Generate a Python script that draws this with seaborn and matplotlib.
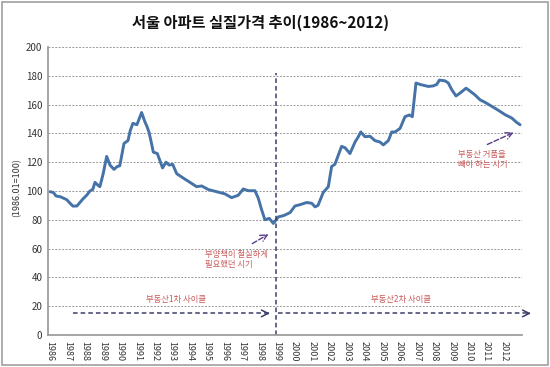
import matplotlib
matplotlib.use("Agg")
import matplotlib.pyplot as plt
import seaborn as sns
import pandas as pd
from matplotlib.patches import Rectangle

# ---- data ----
time = [1986.00, 1986.20, 1986.35, 1986.60, 1986.96, 1987.15, 1987.32, 1987.55, 1987.75, 1987.89,
        1988.10, 1988.29, 1988.45, 1988.58, 1988.75, 1988.86, 1989.05, 1989.25, 1989.44, 1989.67,
        1989.85, 1990.00, 1990.24, 1990.47, 1990.60, 1990.75, 1990.98, 1991.25, 1991.44, 1991.55,
        1991.67, 1991.80, 1991.92, 1992.15, 1992.30, 1992.45, 1992.64, 1992.83, 1993.03, 1993.26,
        1993.45, 1993.63, 1994.02, 1994.40, 1994.69, 1995.07, 1995.55, 1996.02, 1996.40, 1996.78,
        1997.07, 1997.36, 1997.74, 1997.93, 1998.12, 1998.31, 1998.56, 1998.79, 1999.08, 1999.40,
        1999.75, 2000.03, 2000.32, 2000.70, 2000.99, 2001.18, 2001.35, 2001.65, 2001.94, 2002.13,
        2002.32, 2002.70, 2002.90, 2003.18, 2003.47, 2003.66, 2003.80, 2004.04, 2004.33, 2004.61,
        2004.90, 2005.09, 2005.38, 2005.57, 2005.76, 2006.05, 2006.33, 2006.58, 2006.75, 2006.96,
        2007.19, 2007.67, 2007.95, 2008.15, 2008.30, 2008.62, 2008.81, 2009.00, 2009.25, 2009.48,
        2009.83, 2010.01, 2010.34, 2010.63, 2010.91, 2011.30, 2011.68, 2012.06, 2012.44, 2012.73,
        2012.92]
price = [99.5, 99, 96.5, 96, 94, 91.5, 89.5, 89.6, 92.5, 94.5,
         97, 100, 101, 106, 104, 103, 112, 124, 118, 115,
         117, 117.5, 133, 135, 142, 147, 146, 154.5, 148, 145,
         141, 134, 127, 126, 121, 116, 120, 118, 118.5, 112,
         110.5, 109, 106, 103, 103.5, 101, 99.5, 98, 95.4, 97,
         101.4, 100.2, 100.2, 95, 87, 80, 81, 77.5, 82, 83,
         85, 89.6, 90.5, 92, 91.5, 89, 90, 99, 103, 117,
         118.6, 131, 130, 126, 134, 137.7, 141, 137.7, 138, 135,
         134, 132, 135, 141, 141, 143.5, 151.6, 152.8, 151.6, 175,
         174, 172.6, 173, 174, 177, 176.5, 175, 170.5, 166, 168,
         171.4, 169.8, 166.7, 163.3, 161.6, 158.8, 156, 153, 150.7, 147.6,
         146]
years = list(range(1986, 2013))
yticks = list(range(0, 201, 20))

title = "서울 아파트 실질가격 추이(1986~2012)"
ylabel = "(1986.01=100)"
cycle1 = "부동산1차 사이클"
cycle2 = "부동산2차 사이클"
note1 = "부양책이 절실하게\n필요했던 시기"
note2 = "부동산 거품을\n빼야 하는 시기"

# ---- style ----
sns.set_theme(style="white")
plt.rcParams['font.family'] = ['Noto Sans CJK KR', 'DejaVu Sans']

fig = plt.figure(figsize=(5.5, 3.67), dpi=100)
ax = fig.add_axes([48/550, 1-335/367, (522-48)/550, (335-47)/367])

df = pd.DataFrame({"time": time, "price": price})
sns.lineplot(data=df, x="time", y="price", ax=ax, color="#4572a7", lw=2.1)

ax.set_xlim(1985.89, 2013.03)
ax.set_ylim(0, 200)
ax.set_yticks(yticks)
ax.set_yticklabels([str(v) for v in yticks], fontsize=7, color="#333333")
ax.set_xticks(years)
ax.set_xticklabels([str(y) for y in years], rotation=-90, fontsize=6.5, color="#333333")
ax.tick_params(axis='both', length=0, pad=4)
ax.set_xlabel("")
ax.set_ylabel("")
for v in yticks[1:]:
    ax.axhline(v, color="#999999", lw=0.7, ls=(0, (2, 1.5)), zorder=0)
for s in ["top", "right"]:
    ax.spines[s].set_visible(False)
ax.spines["left"].set_color("#9a9a9a")
ax.spines["bottom"].set_color("#9a9a9a")

fig.text(0.474, 0.938, title, ha="center", va="center", fontsize=11, fontweight="bold", color="#111111")
fig.text(0.03, 0.49, ylabel, rotation=90, ha="center", va="center", fontsize=6.5, color="#333333")

navy = "#3d3d6b"
red = "#c85a5a"
# vertical divider
ax.plot([1998.92, 1998.92], [0, 182], color=navy, lw=1.1, ls=(0, (3, 2)))
# horizontal cycle arrows
ax.plot([1987.3, 1998.65], [15, 15], color=navy, lw=1.1, ls=(0, (3, 2)))
ax.annotate("", xy=(1998.75, 15), xytext=(1998.3, 15),
            arrowprops=dict(arrowstyle="->", color=navy, lw=1.1))
ax.plot([1999.05, 2013.5], [15, 15], color=navy, lw=1.1, ls=(0, (3, 2)), clip_on=False)
ax.annotate("", xy=(2013.7, 15), xytext=(2013.2, 15),
            arrowprops=dict(arrowstyle="->", color=navy, lw=1.1), annotation_clip=False)
ax.text(1993.2, 24.5, cycle1, ha="center", va="center", fontsize=6, color=red)
ax.text(2006.1, 24.5, cycle2, ha="center", va="center", fontsize=6, color=red)

# notes with arrows
ax.annotate("", xy=(1998.65, 71), xytext=(1997.45, 62.5),
            arrowprops=dict(arrowstyle="->", color="#5a3d8a", lw=1.0, ls="--"))
ax.text(1994.9, 52.5, note1, ha="left", va="center", fontsize=6, color=red, linespacing=1.1)
ax.annotate("", xy=(2012.7, 141.5), xytext=(2010.9, 131.5),
            arrowprops=dict(arrowstyle="->", color="#5a3d8a", lw=1.0, ls="--"))
ax.text(2009.35, 122, note2, ha="left", va="center", fontsize=6, color=red, linespacing=1.1)

fig.patches.append(Rectangle((0.004, 0.005), 0.992, 0.99, transform=fig.transFigure,
                             fill=False, edgecolor="#a0a0a0", lw=1.2))

fig.savefig("out.png", dpi=100)
